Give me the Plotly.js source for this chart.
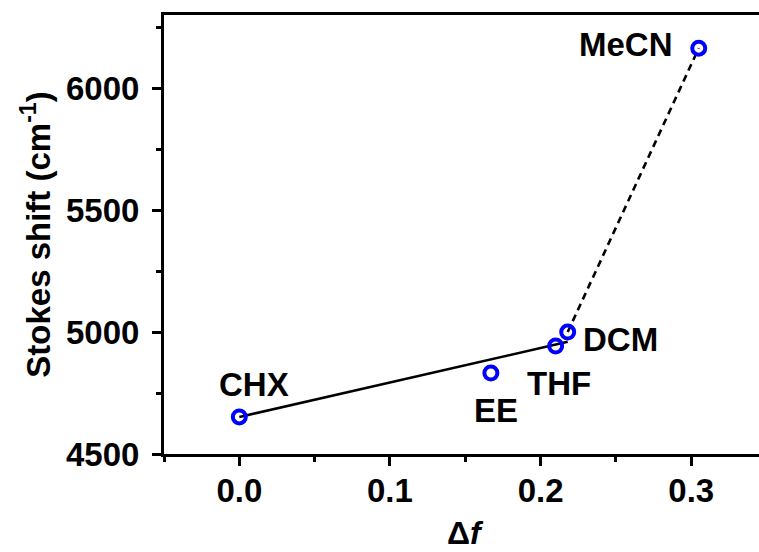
<!DOCTYPE html>
<html>
<head>
<meta charset="utf-8">
<script src="https://cdn.plot.ly/plotly-3.0.1.min.js"></script>
<style>html,body{margin:0;padding:0;background:#fff;}#chart{width:759px;height:552px;}</style>
</head>
<body>
<div id="chart"></div>
<script>
// Data
const solvents = ["CHX", "EE", "THF", "DCM", "MeCN"];
const deltaF = [0.0, 0.167, 0.210, 0.218, 0.305];
const stokesShift = [4652, 4832, 4943, 5000, 6164];
// Linear fit segments
const fitSolidX = [0.0, 0.218];
const fitSolidY = [4652, 4960];
const fitDashX = [0.218, 0.305];
const fitDashY = [5000, 6164];
const xTickVals = [0.0, 0.1, 0.2, 0.3];
const xTickText = ["0.0", "0.1", "0.2", "0.3"];
const yTickVals = [4500, 5000, 5500, 6000];
const yTickText = ["4500", "5000", "5500", "6000"];
const xTitle = "Δ<i>f</i>";
const yTitle = "Stokes shift (cm<sup>-1</sup>)";

// label offsets (pixels) relative to their point
const labelShift = {
  CHX: [15, 32], EE: [5, -37], THF: [3, -38], DCM: [53, -7], MeCN: [-73, 4]
};

const FONT = "Liberation Sans, Arial, sans-serif";

const traces = [
  {x: fitSolidX, y: fitSolidY, mode: "lines", line: {color: "#000", width: 2.6}, hoverinfo: "skip"},
  {x: fitDashX, y: fitDashY, mode: "lines", line: {color: "#000", width: 2.6, dash: "7px,5px"}, hoverinfo: "skip"},
  {x: deltaF, y: stokesShift, mode: "markers", text: solvents,
   marker: {symbol: "circle-open", size: 13, color: "#0000ff", line: {width: 4, color: "#0000ff"}}}
];

const annotations = solvents.map((s, i) => ({
  x: deltaF[i], y: stokesShift[i], xref: "x", yref: "y",
  text: "<b>" + s + "</b>", showarrow: false,
  xanchor: "center", yanchor: "middle",
  xshift: labelShift[s][0], yshift: labelShift[s][1],
  font: {family: FONT, size: 33, color: "#000"}
}));
annotations.push({
  x: 0.506, y: -0.2232, xref: "paper", yref: "paper",
  text: "<b>" + xTitle + "</b>", showarrow: false,
  xanchor: "center", yanchor: "bottom", borderpad: 0,
  font: {family: FONT, size: 32, color: "#000"}
});

const layout = {
  width: 759, height: 552,
  margin: {l: 164, r: 0, t: 15, b: 98},
  paper_bgcolor: "#fff", plot_bgcolor: "#fff",
  showlegend: false,
  font: {family: FONT, color: "#000"},
  xaxis: {
    range: [-0.05, 0.345],
    tickvals: xTickVals, ticktext: xTickText,
    ticks: "outside", ticklen: 9, tickwidth: 3, tickcolor: "#000",
    minor: {dtick: 0.05, tick0: 0, ticks: "outside", ticklen: 5, tickwidth: 3, tickcolor: "#000"},
    showline: true, linewidth: 3, linecolor: "#000", mirror: true,
    showgrid: false, zeroline: false,
    ticklabelstandoff: -4,
    tickfont: {family: FONT, size: 33, color: "#000", weight: "bold"}
  },
  yaxis: {
    range: [4500, 6300],
    tickvals: yTickVals, ticktext: yTickText,
    ticks: "outside", ticklen: 9, tickwidth: 3, tickcolor: "#000",
    minor: {dtick: 250, tick0: 4500, ticks: "outside", ticklen: 5, tickwidth: 3, tickcolor: "#000"},
    showline: true, linewidth: 3, linecolor: "#000", mirror: false,
    showgrid: false, zeroline: false,
    ticklabelstandoff: 6,
    tickfont: {family: FONT, size: 33, color: "#000", weight: "bold"},
    title: {text: "<b>" + yTitle + "</b>", font: {family: FONT, size: 33, color: "#000"}, standoff: 6}
  },
  annotations: annotations
};

Plotly.newPlot("chart", traces, layout, {displayModeBar: false, staticPlot: true});
</script>
</body>
</html>
